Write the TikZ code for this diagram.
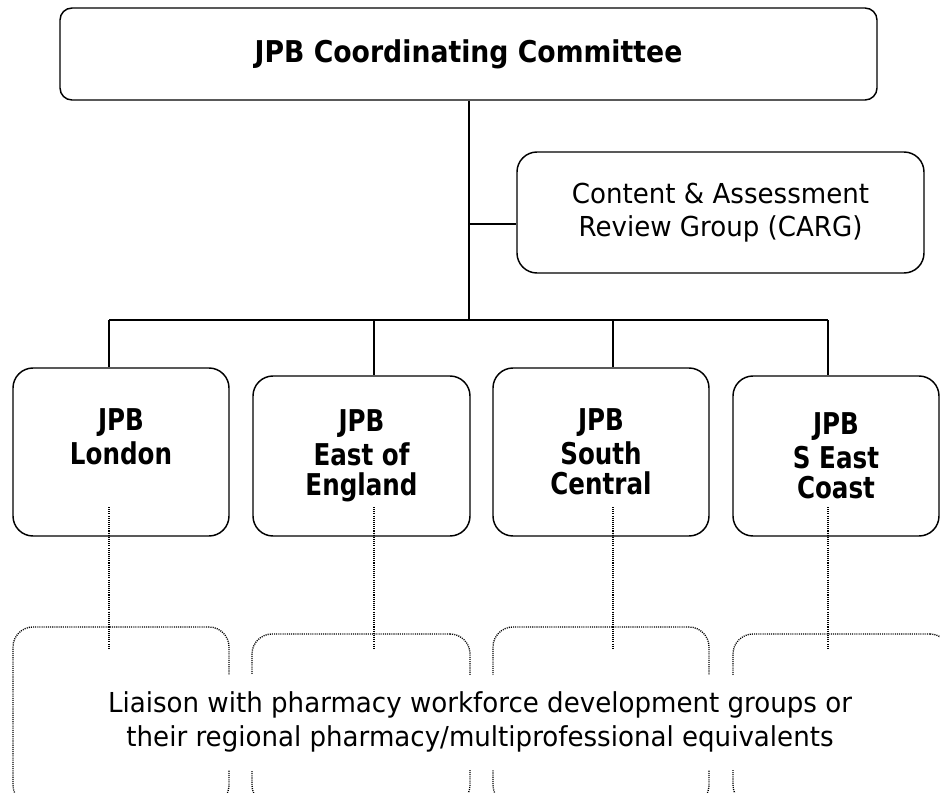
\documentclass[tikz,border=0pt]{standalone}
\usepackage{fontspec}
\setmainfont{DejaVu Sans}[FakeStretch=0.95]
\newfontfamily\titlefont{DejaVu Sans}[FakeStretch=0.89]
\newfontfamily\regionfont{DejaVu Sans}[FakeStretch=0.82]

\begin{document}
\begin{tikzpicture}[x=0.75pt,y=0.75pt,yscale=-1,xscale=1,
  line width=1.1pt,
  board/.style={draw,rounded corners=15pt,align=center,inner sep=0pt},
  region/.style={board,minimum width=162pt,font=\regionfont\bfseries\fontsize{22.5}{23}\selectfont},
  liaison/.style={draw,line width=1pt,dash pattern=on 0.8pt off 0.8pt,rounded corners=15pt,inner sep=0pt},
  link/.style={line width=1pt,dash pattern=on 0.8pt off 0.8pt}]
\useasboundingbox (0,0) rectangle (940,793);

% Text Node
\node[board,rounded corners=9pt,minimum width=612.75pt,minimum height=69pt,font=\titlefont\bfseries\fontsize{22.5}{27}\selectfont] (jpbcc) at (468.5,54) {JPB Coordinating Committee};
% Text Node
\node[board,minimum width=305.25pt,minimum height=90.75pt,font=\fontsize{20.6}{25}\selectfont] (carg) at (720.5,212.5) {Content \& Assessment\\Review Group (CARG)};

% Text Node
\node[region,minimum height=126pt] (london) at (121,452) {JPB\\[2pt]London\\\mbox{}};
% Text Node
\node[region,minimum width=162.75pt,minimum height=120pt] (eoe) at (361.5,456) {JPB\\[2pt]East of\\England};
% Text Node
\node[region,minimum height=126pt] (sc) at (601,452) {JPB\\[2pt]South\\Central};
% Text Node
\node[region,minimum width=154.5pt,minimum height=120pt] (sec) at (836,456) {JPB\\[2pt]S East\\Coast};

%Dotted boxes
\node[liaison,minimum width=162pt,minimum height=133.5pt] (lsn1) at (121,716) {};
\node[liaison,minimum width=163.5pt,minimum height=128.25pt] (lsn2) at (361,719.5) {};
\node[liaison,minimum width=162pt,minimum height=133.5pt] (lsn3) at (601,716) {};
\node[liaison,minimum width=162.75pt,minimum height=128.25pt] (lsn4) at (841.5,719.5) {};

%Straight Lines
\coordinate (hub) at (469,320);
\coordinate (d1) at (109,320);
\coordinate (d2) at (374,320);
\coordinate (d3) at (613,320);
\coordinate (d4) at (828,320);
\draw (jpbcc.south -| hub) -- (hub);
\draw (hub |- 0,224) -- (carg.west |- 0,224);
\draw (d1) -- (d4);
\foreach \d/\r in {d1/london,d2/eoe,d3/sc,d4/sec}
  \draw (\d) -- (\d |- \r.north);
%Dotted Lines
\foreach \d in {d1,d2,d3,d4}
  \draw[link] (\d |- 0,507) -- (\d |- 0,649);

% Text Node
\node[fill=white,align=center,minimum height=71.25pt,inner sep=3pt,font=\fontsize{20.6}{25}\selectfont] (liaisontext) at (480,722) {Liaison with pharmacy workforce development groups or\\their regional pharmacy/multiprofessional equivalents};

\end{tikzpicture}
\end{document}
